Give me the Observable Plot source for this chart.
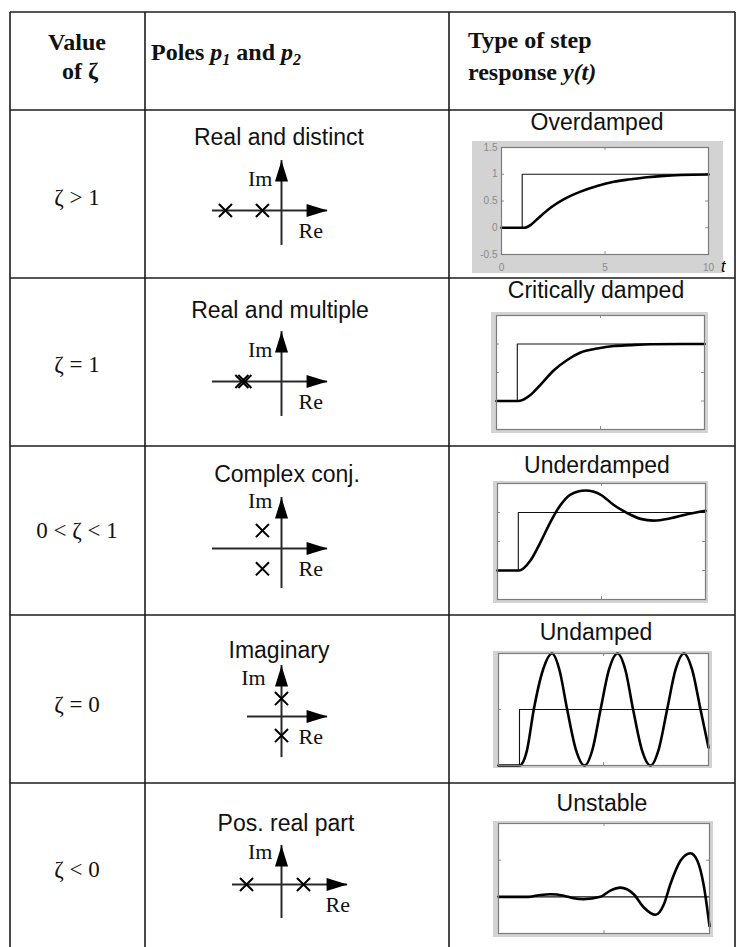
<!DOCTYPE html>
<html><head><meta charset="utf-8">
<script src="https://cdn.jsdelivr.net/npm/d3@7"></script>
<script src="https://cdn.jsdelivr.net/npm/@observablehq/plot@0.6"></script>
<style>
html,body{margin:0;padding:0;background:#fff;}
#page{position:relative;width:742px;height:947px;overflow:hidden;background:#fff;}
#page svg{display:block;}
</style></head>
<body><div id="page"></div>
<script>
// ---------------- data ----------------
const headerCol1 = ["Value", "of ζ"];
const zetaLabels = ["ζ > 1", "ζ = 1", "0 < ζ < 1", "ζ = 0", "ζ < 0"];
const poleTitles = ["Real and distinct", "Real and multiple", "Complex conj.", "Imaginary", "Pos. real part"];
const responseTitles = ["Overdamped", "Critically damped", "Underdamped", "Undamped", "Unstable"];

// poles [Re, Im] in s-plane sketch units
const polesDistinct  = [[-3.03, 0], [-1.03, 0]];
const polesMultiple  = [[-1.98, 0], [-2.14, 0]];
const polesComplex   = [[-1.03, 0.97], [-1.03, -1.1]];
const polesImaginary = [[0, 0.97], [0, -1.03]];
const polesUnstable  = [[-1.89, 0], [1.19, 0]];
const poleSets = [polesDistinct, polesMultiple, polesComplex, polesImaginary, polesUnstable];

// axis extents [from, to] of the Re and Im axes
const reAxis = [[-3.73, 2.49], [-3.73, 2.49], [-3.73, 2.49], [-1.84, 2.49], [-2.65, 3.57]];
const imAxis = [[-1.89, 2.7], [-1.89, 2.7], [-2.16, 2.76], [-2.22, 2.76], [-1.84, 2.11]];
const imLabelAt = [[-0.49, 1.35], [-0.49, 1.3], [-0.49, 2.2], [-0.86, 1.68], [-0.49, 1.4]];
const reLabelAt = [[0.92, -1.51], [0.92, -1.48], [0.92, -1.46], [0.92, -1.46], [2.38, -1.51]];

// step input (t, y)
const stepT = [0, 1, 1, 10];
const stepV = [0, 0, 1, 1];
const flatT = [0, 10];
const flatV = [0, 0];

// responses
const overT = [0, 1.1, 1.4, 1.72, 2.37, 3.0, 3.82, 4.62, 5.43, 6.23, 7.04, 7.84, 8.65, 10];
const overV = [0, 0, 0.05, 0.16, 0.375, 0.53, 0.675, 0.78, 0.86, 0.905, 0.945, 0.97, 0.985, 0.995];

const critT = [0, 1.07, 1.63, 2.1, 2.76, 3.4, 4.04, 4.84, 5.64, 6.4, 7.4, 10];
const critV = [0, 0, 0.105, 0.28, 0.54, 0.72, 0.85, 0.92, 0.965, 0.98, 0.995, 1.0];

const underT = [0, 1.05, 1.59, 2.07, 2.55, 3.03, 3.51, 4.23, 4.95, 5.59, 6.24, 6.88, 7.51, 8.32, 9.12, 10];
const underV = [0, 0, 0.175, 0.49, 0.84, 1.13, 1.31, 1.38, 1.31, 1.13, 0.99, 0.89, 0.86, 0.9, 0.97, 1.03];

const undampT = [0, 1.0, 1.35, 1.68, 2.12, 2.55, 2.9, 3.27, 3.68, 4.1, 4.48, 4.86, 5.26, 5.67, 6.04, 6.41, 6.82, 7.24, 7.63, 8.03, 8.43, 8.83, 9.22, 9.62, 10];
const undampV = [0, 0, 0.26, 1, 1.71, 2, 1.71, 1, 0.29, 0, 0.29, 1, 1.71, 2, 1.71, 1, 0.29, 0, 0.29, 1, 1.71, 2, 1.71, 1, 0.32];

const unstT = [0, 1.44, 1.99, 2.46, 3.1, 3.5, 4.04, 4.83, 5.3, 5.78, 6.41, 6.89, 7.44, 7.84, 8.15, 8.63, 9.1, 9.42, 9.73, 10];
const unstV = [0, 0, 0.05, 0.07, 0.03, -0.03, -0.065, 0, 0.17, 0.25, 0.07, -0.29, -0.49, -0.2, 0.35, 0.99, 1.19, 0.99, 0.3, -0.8];

const axisYTicks = [-0.5, 0, 0.5, 1, 1.5];
const axisXTicks = [0, 5, 10];

// ---------------- layout ----------------
const SERIF = "'Liberation Serif','Times New Roman',serif";
const SANS = "'Liberation Sans',Arial,sans-serif";
const colX = [10, 145, 449, 735];
const rowY = [12, 110, 278, 446, 615, 783, 951];
const page = document.getElementById("page");

function place(node, left, top, w) {
  const d = document.createElement("div");
  d.style.cssText = `position:absolute;left:${left}px;top:${top}px;width:${w}px;`;
  d.appendChild(node);
  page.appendChild(d);
}

// arrow head symbol: tip at the anchor, pointing up
const arrowHead = {draw(ctx) { ctx.moveTo(0, 0); ctx.lineTo(6.5, 21); ctx.lineTo(-6.5, 21); ctx.closePath(); }};

const UNIT = 18.5, PW = 200, PH = 150;
const originX = 281;
const originY = [210, 381, 548, 716, 884];

function poleDiagram(i) {
  const poles = poleSets[i].map(([re, im]) => ({re, im}));
  const heads = [{x: reAxis[i][1], y: 0, rot: 90}, {x: 0, y: imAxis[i][1], rot: 0}];
  return Plot.plot({
    width: PW, height: PH, margin: 0,
    x: {domain: [-PW / 2 / UNIT, PW / 2 / UNIT], axis: null},
    y: {domain: [-PH / 2 / UNIT, PH / 2 / UNIT], axis: null},
    style: {background: "transparent", overflow: "visible"},
    marks: [
      Plot.ruleY([{y: 0, x1: reAxis[i][0], x2: reAxis[i][1]}], {y: "y", x1: "x1", x2: "x2", stroke: "#2a2a2a", strokeWidth: 2}),
      Plot.ruleX([{x: 0, y1: imAxis[i][0], y2: imAxis[i][1]}], {x: "x", y1: "y1", y2: "y2", stroke: "#2a2a2a", strokeWidth: 2}),
      Plot.dot(heads, {x: "x", y: "y", rotate: "rot", symbol: arrowHead, fill: "#000", stroke: "none", r: 5}),
      Plot.dot(poles, {x: "re", y: "im", symbol: "times", r: 6, stroke: "#000", strokeWidth: 2}),
      Plot.text([{x: imLabelAt[i][0], y: imLabelAt[i][1], s: "Im"}], {x: "x", y: "y", text: "s", textAnchor: "end", lineAnchor: "bottom", fontFamily: SERIF, fontSize: 22, fill: "#111"}),
      Plot.text([{x: reLabelAt[i][0], y: reLabelAt[i][1], s: "Re"}], {x: "x", y: "y", text: "s", textAnchor: "start", lineAnchor: "bottom", fontFamily: SERIF, fontSize: 22, fill: "#111"})
    ]
  });
}

const charts = [
  {t: overT, v: overV, st: stepT, sv: stepV, yDomain: [-0.5, 1.5], xTicks: [5], yTicks: [0, 0.5, 1], box: [472, 141, 251, 132], m: [6, 15, 19, 29], labels: true},
  {t: critT, v: critV, st: stepT, sv: stepV, yDomain: [-0.5, 1.5], xTicks: [5], yTicks: [0, 0.5, 1], box: [491, 312, 217, 121], m: [3, 4, 4, 5]},
  {t: underT, v: underV, st: stepT, sv: stepV, yDomain: [-0.5, 1.5], xTicks: [5], yTicks: [0, 0.5, 1], box: [493, 481, 215, 122], m: [2, 3, 4, 4]},
  {t: undampT, v: undampV, st: stepT, sv: stepV, yDomain: [0, 2], xTicks: [5], yTicks: [1], box: [493, 651, 219, 117], m: [2, 4, 3, 5]},
  {t: unstT, v: unstV, st: flatT, sv: flatV, yDomain: [-1, 2], xTicks: [5], yTicks: [1], box: [493, 821, 220, 116], m: [2, 4, 4, 5]}
];

function responseChart(c) {
  const [left, top, w, h] = c.box;
  const [mt, mr, mb, ml] = c.m;
  const iw = w - ml - mr, ih = h - mt - mb;
  const resp = c.t.map((t, k) => ({t, v: c.v[k]}));
  const step = c.st.map((t, k) => ({t, v: c.sv[k]}));
  const tick = "#8e8e8e";
  const marks = [
    Plot.frame({fill: "#fff", stroke: "none"}),
    Plot.tickX(c.xTicks, {x: d => d, stroke: tick, insetTop: ih - 3}),
    Plot.tickX(c.xTicks, {x: d => d, stroke: tick, insetBottom: ih - 3}),
    Plot.tickY(c.yTicks, {y: d => d, stroke: tick, insetRight: iw - 3}),
    Plot.tickY(c.yTicks, {y: d => d, stroke: tick, insetLeft: iw - 3}),
    Plot.line(step, {x: "t", y: "v", stroke: "#111", strokeWidth: 1.1}),
    Plot.line(resp, {x: "t", y: "v", stroke: "#000", strokeWidth: 2.6, curve: "monotone-x"}),
    Plot.frame({stroke: "#7c7c7c", strokeWidth: 1.2})
  ];
  if (c.labels) {
    marks.push(
      Plot.axisY(axisYTicks, {tickSize: 0, tickPadding: 4, tickFormat: d => String(d), fontSize: 10, fontFamily: SANS, label: null}),
      Plot.axisX(axisXTicks, {tickSize: 0, tickPadding: 9, tickFormat: d => String(d), fontSize: 10, fontFamily: SANS, label: null})
    );
  }
  const svg = Plot.plot({
    width: w, height: h, marginTop: mt, marginRight: mr, marginBottom: mb, marginLeft: ml,
    x: c.labels ? {domain: [0, 10], label: null} : {domain: [0, 10], axis: null},
    y: c.labels ? {domain: c.yDomain, label: null} : {domain: c.yDomain, axis: null},
    style: {background: "#d3d3d3", color: "#8a8a8a", overflow: "visible", fontFamily: SANS, fontSize: "10px"},
    marks
  });
  place(svg, left, top, w);
}

// pole diagrams
poleSets.forEach((_, i) => place(poleDiagram(i), originX - PW / 2, originY[i] - PH / 2, PW));
// step response charts
charts.forEach(responseChart);

// ---------------- table + texts overlay ----------------
const ov = d3.select(page).append("svg")
  .attr("width", 742).attr("height", 947)
  .style("position", "absolute").style("left", "0px").style("top", "0px")
  .style("pointer-events", "none");

colX.forEach(x => ov.append("line").attr("x1", x).attr("x2", x).attr("y1", rowY[0]).attr("y2", rowY[rowY.length - 1])
  .attr("stroke", "#1c1c1c").attr("stroke-width", 1.6));
rowY.forEach(y => ov.append("line").attr("x1", colX[0]).attr("x2", colX[colX.length - 1]).attr("y1", y).attr("y2", y)
  .attr("stroke", "#1c1c1c").attr("stroke-width", 1.6));

function txt(x, y, s, o = {}) {
  return ov.append("text").attr("x", x).attr("y", y).text(s)
    .attr("text-anchor", o.anchor || "middle")
    .attr("font-family", o.family || SANS)
    .attr("font-size", o.size || 23)
    .attr("font-weight", o.weight || "normal")
    .attr("font-style", o.style || "normal")
    .attr("fill", o.fill || "#111");
}

// header
txt(77, 50, headerCol1[0], {family: SERIF, size: 24, weight: "bold"});
txt(80, 79, headerCol1[1], {family: SERIF, size: 24, weight: "bold"});

const poles = ov.append("text").attr("x", 151).attr("y", 60).attr("font-family", SERIF).attr("font-size", 24).attr("font-weight", "bold").attr("fill", "#111");
poles.append("tspan").text("Poles ");
poles.append("tspan").attr("font-style", "italic").text("p");
poles.append("tspan").attr("font-style", "italic").attr("font-size", 16).attr("dy", 5).text("1");
poles.append("tspan").attr("dy", -5).text(" and ");
poles.append("tspan").attr("font-style", "italic").text("p");
poles.append("tspan").attr("font-style", "italic").attr("font-size", 16).attr("dy", 5).text("2");

txt(468, 48, "Type of step", {family: SERIF, size: 24, weight: "bold", anchor: "start"});
const resp2 = ov.append("text").attr("x", 468).attr("y", 80).attr("font-family", SERIF).attr("font-size", 24).attr("font-weight", "bold").attr("fill", "#111");
resp2.append("tspan").text("response ");
resp2.append("tspan").attr("font-style", "italic").text("y(t)");

// column 1
const zetaBase = [205, 372, 538, 712, 877];
zetaLabels.forEach((s, i) => txt(77, zetaBase[i], s, {family: SERIF, size: 23}));

// column 2 titles
const poleTitleX = [279, 280, 287, 279, 286];
const poleTitleY = [145, 318, 482, 658, 831];
poleTitles.forEach((s, i) => txt(poleTitleX[i], poleTitleY[i], s));

// column 3 titles
const respTitleX = [597, 596, 597, 596, 602];
const respTitleY = [130, 298, 473, 640, 811];
responseTitles.forEach((s, i) => txt(respTitleX[i], respTitleY[i], s));

// time axis letter of the first chart
txt(721, 272, "t", {family: SANS, size: 16, style: "italic", anchor: "start", fill: "#000"});
</script>
</body></html>
